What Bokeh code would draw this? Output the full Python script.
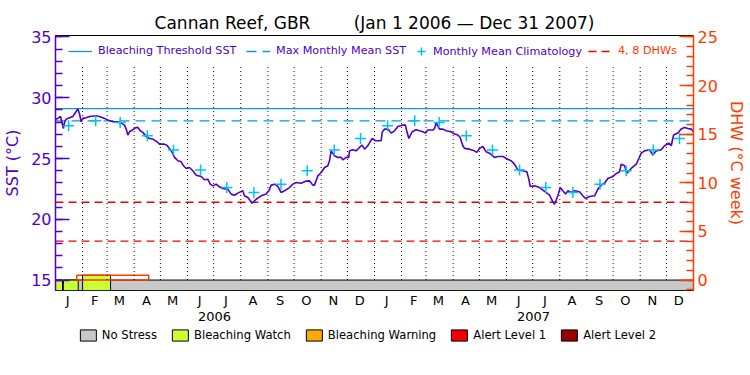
from datetime import date
from bokeh.plotting import figure
from bokeh.layouts import column
from bokeh.models import (Range1d, LinearAxis, FixedTicker, SingleIntervalTicker,
                          Legend, LegendItem)
from bokeh.embed import file_html
from bokeh.resources import INLINE

# ---------------- data ----------------
T0 = date(2006, 1, 1)
years = [2006, 2007]
month_letters = ["J", "F", "M", "A", "M", "J", "J", "A", "S", "O", "N", "D"]

# days since 1 Jan 2006 and SST (deg C)
sst_days = [0, 2.7, 5.7, 9.1, 10.3, 12.2, 16.0, 19.8, 22.9, 25.6, 27.5, 29.4, 31.3, 35.1, 38.9,
            46.5, 50.3, 56.1, 59.9, 65.6, 71.3, 75.1, 79.0, 80.9, 82.8, 84.7, 88.5, 91.5, 94.2,
            96.9, 99.9, 103.7, 107.6, 111.4, 117.1, 119.0, 124.7, 127.4, 130.4, 133.5, 136.2,
            140.0, 143.8, 146.5, 149.5, 153.3, 157.1, 161.0, 166.7, 170.5, 174.3, 177.0, 180.0,
            183.9, 186.9, 191.5, 197.2, 201.0, 204.8, 208.6, 214.3, 216.2, 220.1, 225.0, 229.6,
            235.3, 241.0, 244.1, 246.8, 250.6, 254.4, 258.2, 262.0, 267.7, 271.6, 275.4, 281.1,
            286.8, 290.6, 294.4, 296.3, 300.2, 304.0, 307.8, 311.6, 313.5, 315.4, 319.2, 323.0,
            326.9, 328.8, 332.6, 335.6, 336.4, 340.2, 344.0, 347.8, 350.9, 353.6, 355.5, 358.5,
            362.3, 366.2, 372.6, 373.8, 376.5, 380.3, 384.1, 387.9, 391.7, 397.4, 400.5, 401.3,
            404.3, 408.1, 412.7, 416.5, 420.3, 423.4, 426.0, 431.8, 433.7, 435.6, 437.5, 439.4,
            443.2, 447.0, 452.7, 456.6, 460.4, 463.0, 466.1, 468.0, 473.7, 479.4, 482.1, 485.2,
            489.0, 492.8, 496.6, 502.3, 506.1, 511.9, 515.7, 521.4, 525.2, 529.0, 534.7, 539.3,
            541.6, 543.1, 548.1, 553.8, 561.5, 565.3, 569.1, 571.0, 574.8, 577.5, 580.5, 583.6,
            586.3, 590.1, 593.9, 599.6, 603.4, 606.5, 611.1, 616.8, 620.6, 624.4, 628.2, 632.0,
            637.8, 640.8, 645.4, 647.3, 651.1, 653.8, 658.7, 664.5, 667.5, 670.2, 674.0, 679.7,
            683.5, 687.3, 693.0, 696.9, 701.8, 704.5, 707.2, 712.1, 715.9, 719.8, 723.6, 727.4,
            730.0]
sst = [28.24, 28.30, 28.46, 27.47, 27.97, 28.24, 28.35, 28.46, 28.79, 29.07, 28.66, 28.02, 28.30,
       28.35, 28.46, 28.52, 28.46, 28.30, 28.16, 28.02, 28.02, 27.91, 27.75, 27.42, 26.93, 27.20,
       27.37, 27.53, 27.56, 27.28, 27.15, 26.82, 26.65, 26.60, 26.32, 26.18, 26.18, 26.10, 25.83,
       25.50, 25.09, 24.81, 24.73, 24.40, 24.18, 24.26, 23.99, 23.63, 23.52, 23.25, 23.30, 22.89,
       22.75, 22.89, 22.70, 22.53, 22.48, 22.07, 21.98, 22.15, 22.34, 21.93, 21.79, 21.32, 21.65,
       21.93, 22.07, 22.34, 22.81, 22.89, 22.70, 22.20, 22.34, 22.61, 22.89, 23.03, 22.97, 23.14,
       23.16, 22.81, 22.81, 23.57, 23.85, 24.26, 24.40, 24.81, 25.63, 25.22, 25.09, 25.09, 24.89,
       25.09, 25.09, 25.63, 25.72, 25.63, 25.91, 26.10, 25.77, 25.91, 26.18, 26.65, 26.46, 26.46,
       27.15, 27.42, 27.42, 27.09, 27.28, 27.64, 27.75, 27.75, 27.42, 26.65, 27.20, 27.37, 27.28,
       27.20, 27.09, 27.34, 27.34, 27.47, 27.97, 27.64, 27.42, 27.42, 27.28, 27.20, 27.01, 26.93,
       26.73, 26.05, 25.83, 25.77, 25.63, 25.50, 25.83, 25.99, 25.55, 25.44, 25.09, 25.17, 25.17,
       25.00, 24.81, 24.54, 24.07, 23.99, 23.91, 23.30, 22.70, 22.75, 22.61, 22.20, 21.98, 21.43,
       21.24, 21.93, 22.61, 22.34, 22.07, 22.34, 22.20, 22.34, 22.26, 21.93, 21.71, 21.87, 21.93,
       22.48, 22.81, 22.97, 23.36, 23.52, 23.71, 23.91, 24.54, 24.40, 23.80, 24.18, 24.54, 25.00,
       25.44, 25.63, 25.72, 25.28, 25.63, 25.72, 26.05, 26.27, 26.05, 26.93, 27.09, 27.42, 27.56,
       27.47, 27.42, 27.20]

# monthly mean climatology (Jan..Dec)
climatology = [27.7, 28.1, 27.97, 26.87, 25.7, 24.05, 22.61, 22.2, 22.89, 24.0, 25.7, 26.65]
mmm_sst = 28.1           # max monthly mean
bleach_threshold = 29.1  # MMM + 1
dhw_levels = [4, 8]

# stress level bar (days since 1 Jan 2006)
watch_start = [0, 9, 31]
watch_end = [8, 26, 63]
watch_top_dhw = [0, 0, 0.5]
dhw_start = [24.4]
dhw_end = [106.7]
dhw_value = [0.5]

stress_labels = ["No Stress", "Bleaching Watch", "Bleaching Warning", "Alert Level 1", "Alert Level 2"]
stress_colors = ["#C8C8C8", "#CCFF33", "#FFAA00", "#F00000", "#960000"]

# ---------------- helpers ----------------
def dd(y, m, d):
    return (date(y, m, d) - T0).days

N_DAYS = dd(2008, 1, 1)
mid_month = [dd(y, m, 15) for y in years for m in range(1, 13)]
month_starts = [dd(y, m, 1) for y in years for m in range(1, 13)][1:]
year_mid = [dd(y, 7, 2) for y in years]
clim_x = [dd(y, m, 15) + 1 for y in years for m in range(1, 13)]
clim_y = climatology * len(years)

PURPLE = "#5000C8"
ORANGE = "#FF3C00"
BLUE = "#0A96F0"
CYAN = "#00C0FF"
RED = "#F00000"
FONT = "DejaVu Sans"
NAN = float("nan")

Y0, Y1 = 14.14, 35.12
def sst_to_dhw(v):
    return (v - 15.0) * 1.25

p = figure(frame_width=638, frame_height=255, output_backend="svg", toolbar_location=None,
           x_range=Range1d(0, N_DAYS), y_range=Range1d(Y0, Y1),
           min_border_left=48, min_border_right=48, min_border_top=35, min_border_bottom=38)
p.extra_y_ranges = {"dhw": Range1d(sst_to_dhw(Y0), sst_to_dhw(Y1))}
p.xgrid.visible = False
p.ygrid.visible = False
p.outline_line_color = "black"
p.outline_line_width = 1
p.background_fill_color = "white"
p.border_fill_color = "white"

p.title.text = "Cannan Reef, GBR" + "\u00a0" * 8 + "(Jan 1 2006 \u2014 Dec 31 2007)"
p.title.align = "center"
p.title.text_font = FONT
p.title.text_font_size = "17px"
p.title.text_font_style = "normal"
p.title.text_color = "black"
p.title.standoff = 5

# ---------------- stress bar ----------------
p.quad(left=[0], right=[N_DAYS], bottom=[sst_to_dhw(Y0)], top=[0], y_range_name="dhw",
       fill_color=stress_colors[0], line_color="black", line_width=1)
p.quad(left=watch_start, right=watch_end, bottom=[sst_to_dhw(Y0)] * len(watch_start),
       top=watch_top_dhw, y_range_name="dhw",
       fill_color=stress_colors[1], line_color="black", line_width=1)
p.quad(left=dhw_start, right=dhw_end, bottom=[0], top=dhw_value, y_range_name="dhw",
       fill_color=None, line_color=ORANGE, line_width=1.5)

# month dotted separators
p.segment(x0=month_starts, x1=month_starts, y0=[15] * len(month_starts),
          y1=[32.7] * len(month_starts), line_color="black", line_dash="1 3", line_width=1)

# DHW levels
r_dhw = p.multi_line(xs=[[0, N_DAYS]] * len(dhw_levels), ys=[[v, v] for v in dhw_levels],
                     y_range_name="dhw", line_color=RED, line_dash="8 5", line_width=1.3)
# thresholds
r_thr = p.line([0, N_DAYS], [bleach_threshold] * 2, line_color=BLUE, line_width=1.3)
r_mmm = p.line([0, N_DAYS], [mmm_sst] * 2, line_color=BLUE, line_width=1.3, line_dash="10 6")
# SST
p.line(sst_days, sst, line_color=PURPLE, line_width=1.6)
# climatology
r_clim = p.scatter(clim_x, clim_y, marker="cross", size=11, line_color=CYAN, line_width=1.5)

# ---------------- axes ----------------
def style_y(ax, color):
    for attr in ("axis_line_color", "major_tick_line_color", "minor_tick_line_color",
                 "major_label_text_color", "axis_label_text_color"):
        setattr(ax, attr, color)
    ax.axis_line_width = 1.5
    ax.major_tick_line_width = 1.5
    ax.minor_tick_line_width = 1.5
    ax.major_tick_in, ax.major_tick_out = 14, 0
    ax.minor_tick_in, ax.minor_tick_out = 7, 0
    ax.major_label_text_font = FONT
    ax.major_label_text_font_size = "16px"
    ax.major_label_standoff = 4
    ax.axis_label_text_font = FONT
    ax.axis_label_text_font_size = "16px"
    ax.axis_label_text_font_style = "normal"
    ax.axis_label_standoff = 6

ly = p.yaxis[0]
ly.ticker = SingleIntervalTicker(interval=5, num_minor_ticks=5)
ly.axis_label = "SST (\u00b0C)"
style_y(ly, PURPLE)

ry = LinearAxis(y_range_name="dhw", axis_label="DHW (\u00b0C week)",
                ticker=SingleIntervalTicker(interval=5, num_minor_ticks=5))
style_y(ry, ORANGE)
p.add_layout(ry, "right")

def style_x(ax):
    ax.axis_line_color = None
    ax.major_tick_line_color = None
    ax.minor_tick_line_color = None
    ax.major_tick_in = ax.major_tick_out = 0
    ax.minor_tick_in = ax.minor_tick_out = 0
    ax.major_label_text_font = FONT
    ax.major_label_text_font_size = "13px"
    ax.major_label_text_color = "black"

bx = p.xaxis[0]
bx.ticker = FixedTicker(ticks=mid_month)
bx.major_label_overrides = {t: month_letters[i % 12] for i, t in enumerate(mid_month)}
style_x(bx)
bx.major_label_standoff = 2

yx = LinearAxis(ticker=FixedTicker(ticks=year_mid),
                major_label_overrides={t: str(y) for t, y in zip(year_mid, years)})
style_x(yx)
yx.major_label_standoff = 1
p.add_layout(yx, "below")

# ---------------- top legends ----------------
def top_legend(label, renderers, x, color, gw=24, gh=12, standoff=6):
    lg = Legend(items=[LegendItem(label=label, renderers=renderers)],
                location=(x, 233 - (gh - 12) // 2), orientation="horizontal",
                glyph_width=gw, glyph_height=gh, label_height=gh, label_standoff=standoff,
                padding=0, margin=0, border_line_color=None, background_fill_alpha=0,
                label_text_font=FONT, label_text_font_size="11.2px", label_text_color=color)
    p.add_layout(lg)

top_legend("Bleaching Threshold SST", [r_thr], 13, PURPLE)
top_legend("Max Monthly Mean SST", [r_mmm], 191, PURPLE)
top_legend("Monthly Mean Climatology", [r_clim], 356, PURPLE, gw=20, gh=20, standoff=2)
top_legend("4, 8 DHWs", [r_dhw], 533, ORANGE)

# ---------------- stress level key (separate strip below) ----------------
k = figure(width=734, height=22, output_backend="svg", toolbar_location=None,
           x_range=Range1d(0, 1), y_range=Range1d(0, 1), min_border=0)
k.xaxis.visible = False
k.yaxis.visible = False
k.xgrid.visible = False
k.ygrid.visible = False
k.outline_line_color = None
k.background_fill_color = "white"
k.border_fill_color = "white"
key_renderers = [k.quad(left=[NAN], right=[NAN], bottom=[NAN], top=[NAN],
                        fill_color=c, line_color="black", line_width=1)
                 for c in stress_colors]
key = Legend(items=[LegendItem(label=l, renderers=[r]) for l, r in zip(stress_labels, key_renderers)],
             location="top_center", orientation="horizontal",
             glyph_width=20, glyph_height=14, label_height=14, label_standoff=4,
             spacing=13, padding=0, margin=0, border_line_color=None,
             background_fill_alpha=0, label_text_font=FONT,
             label_text_font_size="11.6px", label_text_color="black")
k.add_layout(key)

layout = column(p, k, spacing=0)
open("out.html", "w").write(file_html(layout, INLINE))
